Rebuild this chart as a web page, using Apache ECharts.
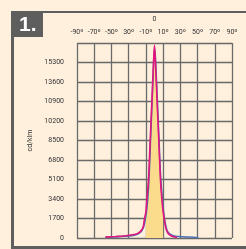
<!DOCTYPE html>
<html>
<head>
<meta charset="utf-8">
<script src="https://cdn.jsdelivr.net/npm/echarts@6/dist/echarts.min.js"></script>
<style>
  html, body { margin: 0; padding: 0; background: #fef0dd; }
  #main { width: 246px; height: 249px; }
</style>
</head>
<body>
<div id="main"></div>
<script>
// tick labels as printed on the sheet
const xTickLabels = ['-90º', '-70º', '-50º', '30º', '-10º', '10º', '30º', '50º', '70º', '90º'];
const yTickLabels = ['0', '1700', '3400', '5100', '6800', '8500', '10200', '10900', '13600', '15300', ''];

// magenta curve: angle (deg) / intensity (cd/klm)
const pinkAngles = [-57, -45, -35, -25, -20, -16, -13, -12, -10, -9, -7, -5, -3, -1, 0, 1, 3, 5, 7, 9, 10, 11, 13, 15, 18, 22, 26];
const pinkValues = [80, 130, 180, 280, 380, 600, 1000, 1500, 2300, 3300, 5000, 8500, 12000, 15500, 16800, 15500, 12000, 8500, 5000, 3000, 2300, 1800, 900, 500, 250, 100, 40];

// blue curve
const blueAngles = [-57, -45, -35, -25, -20, -16, -13, -11, -9, -7, -5, -3, -1, 0, 1, 3, 5, 7, 9, 11, 13, 15, 18, 22, 28, 35, 45, 51];
const blueValues = [60, 100, 150, 230, 330, 520, 900, 1500, 2500, 4300, 7800, 11500, 15300, 16500, 15800, 12500, 9000, 5500, 3500, 2000, 1100, 600, 330, 200, 130, 100, 70, 40];

// shaded beam zone
const beamFrom = -10;
const beamTo = 10;

// x axis runs 0..180 so ticks land on -90, -70 ... 90
const toPairs = (angles, values) => angles.map((a, i) => [a + 90, values[i]]);
const beamPairs = toPairs(pinkAngles, pinkValues).filter(p => p[0] >= beamFrom + 90 && p[0] <= beamTo + 90);

const chart = echarts.init(document.getElementById('main'));

const labelFont = {
  fontFamily: 'Liberation Sans Narrow, Roboto, sans-serif',
  fontSize: 7,
  color: '#333'
};

const option = {
  backgroundColor: '#fef0dd',
  animation: false,
  grid: { left: 77, right: 14, top: 43, bottom: 11 },
  xAxis: {
    type: 'value',
    position: 'top',
    min: 0,
    max: 180,
    interval: 20,
    name: '0',
    nameLocation: 'middle',
    nameGap: 20,
    nameTextStyle: labelFont,
    axisLine: { show: false },
    axisTick: { show: false },
    axisLabel: Object.assign({
      margin: 7,
      formatter: v => xTickLabels[Math.round(v / 20)]
    }, labelFont),
    splitLine: { lineStyle: { color: '#6a6a6a', width: 1.3 } }
  },
  yAxis: {
    type: 'value',
    min: 0,
    max: 17000,
    interval: 1700,
    name: 'cd/klm',
    nameLocation: 'middle',
    nameRotate: 90,
    nameGap: 40,
    nameTextStyle: labelFont,
    axisLine: { show: false },
    axisTick: { show: false },
    axisLabel: Object.assign({
      margin: 13,
      formatter: v => yTickLabels[Math.round(v / 1700)]
    }, labelFont),
    splitLine: { lineStyle: { color: '#6a6a6a', width: 1.3 } }
  },
  graphic: [
    { type: 'rect', shape: { x: 11, y: 11, width: 235, height: 2 }, style: { fill: '#5e5e5e' } },
    { type: 'rect', shape: { x: 11, y: 11, width: 3, height: 238 }, style: { fill: '#5e5e5e' } },
    { type: 'rect', shape: { x: 11, y: 246, width: 235, height: 3 }, style: { fill: '#5e5e5e' } },
    { type: 'rect', shape: { x: 11, y: 11, width: 32, height: 26 }, style: { fill: '#5e5e5e' } },
    {
      type: 'text', left: 19, top: 15,
      style: { text: '1.', fill: '#fff', font: 'bold 21px Liberation Sans, Arial, sans-serif' }
    }
  ],
  series: [
    {
      name: 'beam',
      type: 'line',
      data: beamPairs,
      symbol: 'none',
      lineStyle: { width: 0 },
      areaStyle: { color: '#fbdc8c', opacity: 1 },
      z: 1
    },
    {
      name: 'blue',
      type: 'line',
      data: toPairs(blueAngles, blueValues),
      symbol: 'none',
      smooth: 0.3,
      lineStyle: { color: '#4a72b5', width: 1.6 },
      z: 2
    },
    {
      name: 'pink',
      type: 'line',
      data: toPairs(pinkAngles, pinkValues),
      symbol: 'none',
      smooth: 0.3,
      lineStyle: { color: '#e2167c', width: 1.6 },
      z: 3
    }
  ]
};

chart.setOption(option);
</script>
</body>
</html>
